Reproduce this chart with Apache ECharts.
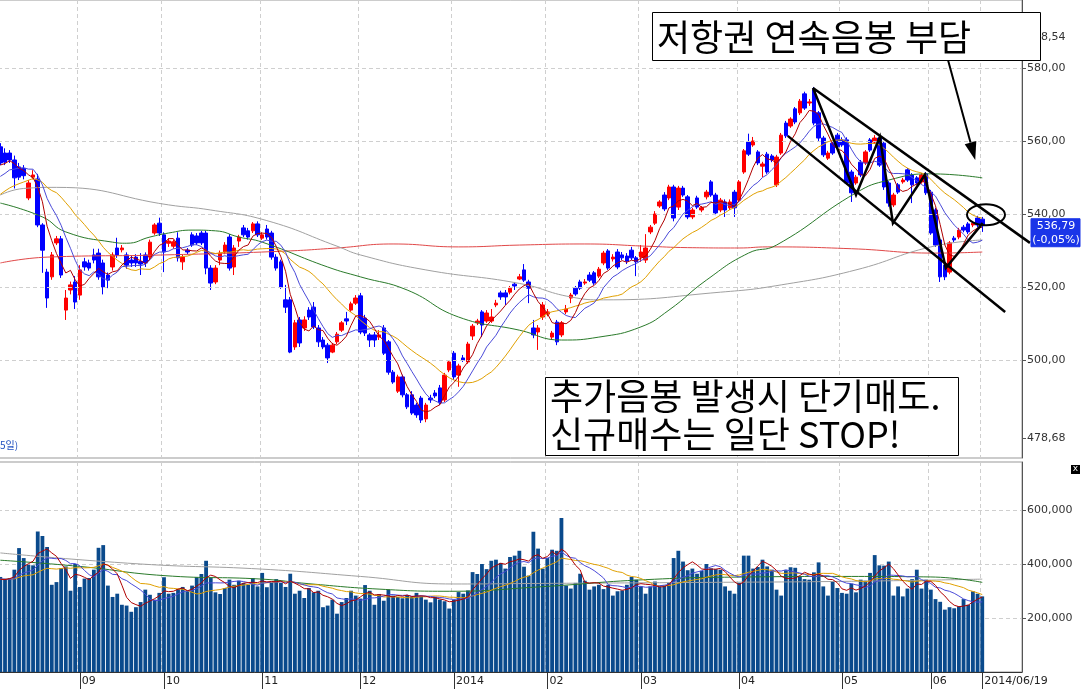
<!DOCTYPE html>
<html>
<head>
<meta charset="utf-8">
<script src="https://cdn.jsdelivr.net/npm/echarts@6/dist/echarts.min.js"></script>
<style>
  html, body { margin: 0; padding: 0; background: #fff; }
  #chart { width: 1084px; height: 689px; }
</style>
</head>
<body>
<div id="chart"></div>
<script>
// daily candles [open, close, low, high], 2013/08 .. 2014/06/19
const priceOHLC = [
  [558.4,554.0,553.4,559.4],[556.7,554.2,553.4,558.0],[556.7,554.8,554.0,557.5],[554.8,549.9,547.0,556.0],
  [552.9,550.1,549.3,554.0],[552.5,550.5,549.5,553.4],[544.4,548.5,543.8,549.3],[550.1,550.7,549.5,552.0],
  [549.6,537.0,536.4,551.0],[537.0,530.1,523.9,537.5],[524.1,517.0,514.3,525.0],[522.8,528.8,522.0,529.6],
  [532.1,533.2,531.5,534.0],[533.2,523.3,522.5,534.0],[513.7,517.0,511.0,519.2],[519.2,520.6,518.0,521.5],
  [521.4,515.9,514.0,523.0],[517.8,524.7,516.5,526.0],[526.9,525.5,524.5,528.0],[526.6,525.2,524.5,527.5],
  [528.8,527.4,526.5,530.5],[529.3,522.8,522.0,530.5],[526.6,520.0,518.0,527.5],[523.3,521.9,519.7,524.0],
  [525.5,528.8,524.5,529.5],[530.7,528.8,528.0,533.5],[530.2,530.7,529.5,531.5],[528.8,526.0,525.0,529.5],
  [527.4,526.6,525.5,528.5],[528.2,526.6,525.5,529.0],[527.0,526.3,523.3,529.3],[528.8,526.6,525.5,529.5],
  [528.2,532.3,527.5,533.0],[534.8,537.0,534.3,537.5],[537.5,534.8,534.0,539.0],[534.3,529.6,524.1,535.0],
  [532.0,532.6,531.0,533.4],[531.2,532.4,530.5,533.0],[533.4,528.0,527.0,535.0],[526.9,528.2,524.7,528.8],
  [530.1,529.6,529.0,530.7],[534.3,531.5,531.0,535.0],[534.0,532.1,531.5,534.8],[534.8,532.1,531.5,535.4],
  [534.8,525.2,523.5,535.4],[525.2,521.1,519.2,526.0],[521.4,525.2,520.8,526.0],[527.4,529.3,526.0,530.0],
  [529.6,531.5,529.0,532.3],[533.7,525.2,524.5,534.5],[525.5,530.7,523.3,531.5],[532.6,533.7,531.0,534.3],
  [536.2,534.3,533.7,537.0],[535.4,533.7,533.0,536.2],[535.4,537.3,534.8,537.8],[537.3,534.3,533.7,538.0],
  [533.4,534.3,532.9,535.0],[535.9,533.7,533.0,537.0],[534.8,528.2,527.5,535.4],[528.2,525.2,524.5,529.0],
  [526.9,520.0,519.5,527.5],[516.5,514.5,512.9,520.6],[516.5,502.2,501.9,517.3],[503.6,510.2,502.8,511.0],
  [511.0,504.7,503.6,511.8],[508.8,511.0,508.0,512.0],[513.7,511.8,511.0,514.5],[514.5,509.1,508.5,515.9],
  [508.8,505.0,503.6,509.6],[505.5,503.6,503.0,506.3],[504.1,500.6,499.2,504.7],[502.2,504.1,501.9,504.7],
  [505.0,507.1,504.4,507.7],[508.2,510.2,507.7,510.7],[511.3,510.7,509.6,513.2],[513.7,515.4,513.2,516.0],
  [515.6,517.0,515.1,517.8],[517.6,507.7,507.1,518.4],[511.5,507.4,506.6,512.4],[506.9,505.5,503.6,507.4],
  [506.9,505.5,503.6,507.7],[506.3,506.9,505.5,508.2],[508.8,501.9,501.4,509.6],[505.0,496.7,496.0,505.5],
  [496.7,494.0,493.5,497.3],[491.5,495.4,491.0,496.0],[495.4,490.5,489.8,496.0],[490.5,487.2,486.6,491.0],
  [490.5,485.5,485.0,491.5],[487.7,485.0,484.2,488.3],[489.6,483.6,482.8,490.2],[483.9,487.7,483.0,488.3],
  [489.6,489.1,488.3,490.5],[491.0,490.2,489.6,491.8],[492.4,488.3,487.7,493.2],[489.1,495.9,488.5,496.5],
  [497.3,499.5,496.7,500.0],[501.9,495.4,494.6,502.5],[495.9,498.4,492.7,499.0],[500.6,500.0,499.5,501.4],
  [499.5,504.4,499.0,505.0],[506.6,509.3,505.5,509.9],[510.2,510.7,509.6,511.3],[513.2,509.6,506.3,513.7],
  [510.7,512.9,510.2,513.7],[510.7,511.8,510.2,514.0],[515.1,515.6,514.5,516.5],[518.4,517.3,516.5,519.0],
  [518.4,517.3,515.1,519.2],[518.6,519.7,518.0,520.3],[520.8,520.3,519.2,521.4],[522.2,522.8,521.9,523.6],
  [524.7,521.9,521.4,526.3],[521.4,519.7,515.6,522.0],[508.8,506.9,506.0,511.0],[507.7,508.8,502.8,509.6],
  [511.8,515.1,511.0,515.9],[512.6,513.2,512.0,514.0],[506.3,507.4,505.5,508.0],[510.4,505.0,504.1,511.0],
  [506.9,510.2,506.3,510.7],[513.2,514.0,512.6,515.1],[517.0,517.8,515.6,518.4],[519.7,518.1,517.6,520.3],
  [521.4,519.7,519.2,522.0],[521.1,521.4,520.6,522.2],[523.3,521.9,521.4,524.1],[523.9,521.1,520.6,524.4],
  [523.0,524.9,522.5,525.5],[526.6,529.3,526.0,529.9],[529.9,525.2,524.7,530.4],[527.7,528.2,527.0,529.0],
  [529.6,525.5,524.9,530.4],[528.8,528.0,527.4,529.6],[528.5,527.1,526.3,529.3],[530.1,528.0,527.4,531.0],
  [528.0,526.9,523.0,528.5],[528.2,529.6,526.9,531.5],[527.4,530.7,526.6,534.5],[535.1,536.4,534.5,537.0],
  [537.5,540.0,537.0,540.8],[542.2,543.3,541.7,543.8],[545.2,541.4,540.8,546.0],[544.4,547.4,543.8,548.0],
  [547.4,538.9,538.0,548.0],[541.9,547.1,541.1,547.7],[547.1,545.2,544.7,547.7],[544.7,539.2,538.6,545.2],
  [539.2,541.1,538.6,541.7],[544.4,541.9,541.4,545.0],[541.1,541.7,540.5,542.2],[544.7,546.0,544.0,546.6],
  [548.8,545.2,544.7,549.3],[545.2,540.3,539.7,545.8],[541.1,543.8,540.5,544.4],[543.3,541.1,539.2,544.0],
  [541.7,543.3,541.1,544.0],[546.0,541.7,539.2,546.6],[543.8,548.8,543.3,549.3],[551.5,557.3,551.0,557.8],
  [559.7,556.4,555.9,562.0],[558.9,560.0,558.4,561.1],[557.0,554.0,553.4,557.5],[553.1,553.7,550.1,554.3],
  [556.4,551.5,551.0,557.0],[555.9,554.8,554.2,556.4],[548.0,555.6,547.4,556.2],[556.7,561.6,556.2,562.2],
  [564.9,561.4,560.8,565.5],[564.1,566.0,563.6,566.5],[568.8,565.2,564.6,569.3],[567.7,570.9,567.1,571.5],
  [572.9,569.0,568.5,573.5],[570.4,570.7,569.6,571.5],[574.0,564.9,564.3,574.8],[567.7,560.8,560.0,568.2],
  [560.8,556.2,555.6,561.4],[555.3,556.7,554.8,557.3],[559.4,556.7,556.2,560.0],[561.6,558.4,557.8,562.2],
  [560.3,558.9,558.4,561.0],[560.3,548.5,548.0,561.0],[551.5,545.8,543.3,552.1],[548.5,550.1,548.0,550.7],
  [554.2,550.7,550.1,554.8],[554.0,557.0,553.4,557.5],[560.3,557.5,557.0,560.8],[559.7,560.8,559.2,561.6],
  [560.8,553.4,552.9,561.4],[559.4,547.4,546.6,560.0],[548.5,543.0,542.0,549.0],[542.5,545.2,541.9,545.8],
  [548.0,546.0,545.5,548.5],[548.8,549.3,548.3,549.9],[552.1,549.3,548.8,552.6],[550.7,548.0,543.0,551.2],
  [549.9,548.5,548.0,550.4],[548.8,550.7,548.3,551.2],[551.0,545.8,545.2,551.5],[546.0,534.8,534.3,546.6],
  [541.1,531.5,531.0,541.7],[532.9,522.8,521.4,533.4],[526.0,522.8,521.9,526.6],[524.1,532.1,523.5,532.6],
  [533.4,532.9,532.3,534.0],[533.7,535.6,533.1,536.2],[536.4,535.6,535.0,537.0],[537.3,535.1,534.5,537.8],
  [537.0,537.5,536.4,538.1],[538.9,537.0,536.4,539.5],[538.6,536.79,535.1,539.2]
];
// closes of the days just before the visible range (only used to seed the short averages)
const leadInCloses = [536,538,537,540,541,539,542,544,543,545,546,545,548,547,550,552,551,554,556];

// volume in thousands of shares
const volumesK = [
  352,344,348,379,459,422,397,395,520,504, 463,323,333,385,391,301,400,315,346,348,
  379,460,470,320,278,290,249,246,223,240,259, 305,286,268,293,351,290,293,307,315,299,
  320,351,363,412,348,295,289,311,342,323, 338,330,323,348,317,367,314,330,344,330,315,
  364,290,301,274,311,295,301,240,246,268, 216,259,274,301,283,272,322,301,249,289,
  264,305,283,278,273,285,278,293,280,268,258, 278,268,262,235,268,296,290,302,370,363,
  400,381,412,416,404,383,426,431,449,390,357, 519,
  457,383,422,453,449,570,320,309,330,364, 338,305,317,323,307,323,283,299,302,323,
  352,342,317,290,317,335,317,321,330,422, 449,409,377,383,364,375,400,384,381,379,
  317,301,290,330,431,431,383,389,416,391, 379,305,283,377,388,386,352,344,342,369,
  406,317,283,336,311,293,290,327,295,342, 338,367,433,395,394,409,283,317,280,309,
  344,379,309,342,305,270,260,231,240,236, 243,270,249,299,290,280
];
const leadInVolumesK = [330,345,360,340,325,350,355,338,342,330,350,362,345,340,335,350,330,345,340];

// long averages as [dayIndex, value]
const ma60Points = [[0,543.0],[9,539.2],[14,535.1],[24,532.3],[27,532.0],[32,533.7],[36,534.8],[41,535.6],
  [46,535.4],[51,533.7],[56,532.3],[70,525.5],[77,522.8],[87,519.2],[98,511.8],[111,508.2],[120,505.5],
  [128,506.3],[137,509.1],[143,513.7],[151,521.9],[160,529.3],[166,531.5],[183,545.8],[190,549.3],
  [199,551.0],[210,549.9]];
const ma120Points = [[0,545.2],[5,547.0],[12,547.3],[36,542.5],[45,541.1],[57,538.2],[72,531.2],[77,528.8],
  [91,524.7],[111,521.0],[122,517.3],[129,516.5],[154,518.6],[167,520.6],[183,524.7],[199,531.0],[210,532.9]];
const ma240Points = [[0,526.6],[10,528.2],[35,528.8],[60,529.8],[72,530.7],[84,531.8],[98,531.0],
  [111,531.5],[125,531.8],[138,531.2],[147,530.8],[158,530.7],[164,531.0],[182,530.5],[200,529.3],[210,529.6]];
const volMa60Points = [[0,414],[17,391],[35,357],[56,344],[66,327],[81,307],[96,299],[115,315],
  [138,342],[160,352],[182,354],[199,352],[210,332]];
const volMa120Points = [[0,441],[30,400],[56,381],[77,354],[97,326],[115,328],[152,332],[182,336],[210,344]];

// axis labels
const slotCount = 219;
const monthTicks = [[17,'09'],[35,'10'],[56,'11'],[77,'12'],[97,'2014'],[117,'02'],[137,'03'],
  [158,'04'],[180,'05'],[199,'06'],[210,'2014/06/19']];
const priceLabelValues = [478.68, 500, 520, 540, 560, 580, 588.54];
const priceGridValues = [500, 520, 540, 560, 580];
const volumeLabelValues = [200, 400, 600];
const lastChangeText = '(-0,05%)';

// hand-drawn annotations in [dayIndex, price]
const channelUpper = [[173.8, 574.5], [220.2, 532.1]];
const channelLower = [[168.4, 561.4], [214.9, 513.2]];
const zigzag = [[173.8,574.5],[183.0,545.2],[188.1,561.1],[190.9,537.5],[197.7,550.7],[202.2,525.2],[210.1,537.5]];
const ellipseCenter = [210.8, 539.8];
const arrowLine = [[202.5, 583.0], [208.5, 554.8]];
const noteTop = '저항권 연속음봉 부담';
const noteBottom = ['추가음봉 발생시 단기매도.', '신규매수는 일단 STOP!'];

function movingAverage(values, lead, n) {
  const all = lead.concat(values);
  const off = lead.length;
  return values.map((_, i) => {
    let s = 0;
    for (let k = off + i - n + 1; k <= off + i; k++) s += all[k];
    return +(s / n).toFixed(2);
  });
}

const closes = priceOHLC.map(d => d[1]);
const categories = Array.from({ length: slotCount }, (_, i) => String(i));
const tickMap = new Map(monthTicks);
const isTick = (i) => tickMap.has(i);
const numFont = 'DejaVu Sans';
const hangulFont = '"Noto Sans CJK KR"';

function lineSeries(name, data, color, xi, yi, smooth) {
  return {
    type: 'line', name, data, xAxisIndex: xi, yAxisIndex: yi,
    showSymbol: false, symbol: 'none', smooth: smooth || false,
    lineStyle: { color, width: 1 }, z: 6, silent: true
  };
}

const chart = echarts.init(document.getElementById('chart'));
const option = {
  animation: false,
  backgroundColor: '#fff',
  grid: [
    { left: -2, right: 62, top: 0, height: 458, show: true, borderColor: '#999', borderWidth: 1, outerBoundsMode: 'none' },
    { left: -2, right: 62, top: 462, height: 210, show: true, borderColor: '#999', borderWidth: 1, outerBoundsMode: 'none' }
  ],
  xAxis: [
    {
      type: 'category', gridIndex: 0, data: categories, boundaryGap: true,
      axisLine: { show: false }, axisTick: { show: false }, axisLabel: { show: false },
      splitLine: { show: true, interval: isTick, lineStyle: { color: '#cfcfcf', type: [4, 3], width: 1 } }
    },
    {
      type: 'category', gridIndex: 1, data: categories, boundaryGap: true,
      axisLine: { show: true, lineStyle: { color: '#333', width: 1 } },
      axisTick: { show: true, interval: isTick, alignWithLabel: true, length: 17, lineStyle: { color: '#333' } },
      axisLabel: {
        show: true, interval: isTick, align: 'left', margin: 4, padding: [0, 0, 0, 2],
        fontFamily: numFont, fontSize: 11, color: '#222',
        formatter: (v, i) => tickMap.get(i) || ''
      },
      splitLine: { show: true, interval: isTick, lineStyle: { color: '#cfcfcf', type: [4, 3], width: 1 } }
    }
  ],
  yAxis: [
    {
      type: 'value', gridIndex: 0, position: 'right', min: 473.2, max: 598.6, scale: true,
      axisLine: { show: true, lineStyle: { color: '#555' } },
      axisTick: { show: true, customValues: priceLabelValues, length: 4, lineStyle: { color: '#555' } },
      axisLabel: {
        customValues: priceLabelValues, margin: 5, fontFamily: numFont, fontSize: 11, color: '#333',
        formatter: v => v.toFixed(2).replace('.', ',')
      },
      splitLine: { show: false }
    },
    {
      type: 'value', gridIndex: 1, position: 'right', min: 0, max: 777.8, interval: 200,
      axisLine: { show: true, lineStyle: { color: '#555' } },
      axisTick: { show: true, customValues: volumeLabelValues, length: 4, lineStyle: { color: '#555' } },
      axisLabel: {
        customValues: volumeLabelValues, margin: 5, fontFamily: numFont, fontSize: 11, color: '#333',
        formatter: v => (v * 1000).toLocaleString('en-US')
      },
      splitLine: { show: true, lineStyle: { color: '#cfcfcf', type: [4, 3], width: 1 } }
    }
  ],
  series: [
    {
      type: 'line', name: 'grid', data: [], xAxisIndex: 0, yAxisIndex: 0, z: 1, silent: true,
      markLine: {
        silent: true, symbol: 'none', label: { show: false },
        lineStyle: { color: '#cfcfcf', type: [4, 3], width: 1 },
        data: priceGridValues.map(v => ({ yAxis: v }))
      }
    },
    {
      type: 'candlestick', name: 'price', data: priceOHLC, xAxisIndex: 0, yAxisIndex: 0,
      barWidth: 4, z: 4, silent: true,
      itemStyle: { color: '#ff0000', color0: '#0000ff', borderColor: '#ff0000', borderColor0: '#0000ff', borderWidth: 1 }
    },
    lineSeries('MA240', ma240Points, '#e04848', 0, 0, true),
    lineSeries('MA120', ma120Points, '#a0a0a0', 0, 0, true),
    lineSeries('MA60', ma60Points, '#2a7a2a', 0, 0, true),
    lineSeries('MA20', movingAverage(closes, leadInCloses, 20), '#e0a000', 0, 0),
    lineSeries('MA10', movingAverage(closes, leadInCloses, 10), '#4a4ad8', 0, 0),
    lineSeries('MA5', movingAverage(closes, leadInCloses, 5), '#b00000', 0, 0),
    {
      type: 'bar', name: 'volume', data: volumesK, xAxisIndex: 1, yAxisIndex: 1,
      barWidth: 3.8, itemStyle: { color: '#0a4a8c' }, z: 4, silent: true
    },
    lineSeries('VMA120', volMa120Points, '#a0a0a0', 1, 1, true),
    lineSeries('VMA60', volMa60Points, '#2a7a2a', 1, 1, true),
    lineSeries('VMA20', movingAverage(volumesK, leadInVolumesK, 20), '#e0a000', 1, 1),
    lineSeries('VMA10', movingAverage(volumesK, leadInVolumesK, 10), '#4a4ad8', 1, 1),
    lineSeries('VMA5', movingAverage(volumesK, leadInVolumesK, 5), '#b00000', 1, 1)
  ]
};
chart.setOption(option);

// annotations: convert [dayIndex, price] to pixels through the axes
const xA = chart.convertToPixel({ gridIndex: 0 }, [0, 500])[0];
const xB = chart.convertToPixel({ gridIndex: 0 }, [100, 500])[0];
function toPx(pt) {
  const y = chart.convertToPixel({ gridIndex: 0 }, [0, pt[1]])[1];
  return [xA + pt[0] * (xB - xA) / 100, y];
}
const ink = { stroke: '#000', lineWidth: 2.5, fill: null };

function segment(pts, width) {
  const a = toPx(pts[0]), b = toPx(pts[1]);
  return { type: 'line', z: 100, shape: { x1: a[0], y1: a[1], x2: b[0], y2: b[1] },
    style: { stroke: '#000', lineWidth: width } };
}

const arrowA = toPx(arrowLine[0]), arrowB = toPx(arrowLine[1]);
const dx = arrowB[0] - arrowA[0], dy = arrowB[1] - arrowA[1];
const len = Math.hypot(dx, dy), ux = dx / len, uy = dy / len;
const headBase = [arrowB[0] - ux * 18, arrowB[1] - uy * 18];
const ellipsePx = toPx(ellipseCenter);
const lastPx = toPx([closes.length - 1, closes[closes.length - 1]]);

const graphics = [
  segment(channelUpper, 2.5),
  segment(channelLower, 2.5),
  { type: 'polyline', z: 100, shape: { points: zigzag.map(toPx) }, style: ink },
  { type: 'ellipse', z: 100, shape: { cx: ellipsePx[0], cy: ellipsePx[1], rx: 19, ry: 10.5 },
    style: { stroke: '#000', lineWidth: 2, fill: null } },
  { type: 'line', z: 100, shape: { x1: arrowA[0], y1: arrowA[1], x2: headBase[0], y2: headBase[1] },
    style: { stroke: '#000', lineWidth: 2 } },
  { type: 'polygon', z: 100, shape: { points: [arrowB,
      [headBase[0] - uy * 6, headBase[1] + ux * 6], [headBase[0] + uy * 6, headBase[1] - ux * 6]] },
    style: { fill: '#000' } },
  // note boxes
  { type: 'rect', z: 110, shape: { x: 652.5, y: 12.5, width: 388, height: 48 },
    style: { fill: '#fff', stroke: '#000', lineWidth: 1 } },
  { type: 'text', z: 111, style: { text: noteTop, x: 657, y: 37, fill: '#000',
      fontFamily: hangulFont, fontSize: 36, verticalAlign: 'middle' } },
  { type: 'rect', z: 110, shape: { x: 545.5, y: 377.5, width: 413, height: 78 },
    style: { fill: '#fff', stroke: '#000', lineWidth: 1 } },
  { type: 'text', z: 111, style: { text: noteBottom[0], x: 550, y: 396, fill: '#000',
      fontFamily: hangulFont, fontSize: 36, verticalAlign: 'middle' } },
  { type: 'text', z: 111, style: { text: noteBottom[1], x: 550, y: 434, fill: '#000',
      fontFamily: hangulFont, fontSize: 36, verticalAlign: 'middle' } },
  // current price tag
  { type: 'rect', z: 110, shape: { x: 1031, y: lastPx[1] - 7, width: 49, height: 28 },
    style: { fill: '#1a35e8', stroke: '#1a35e8' } },
  { type: 'text', z: 111, style: { text: closes[closes.length - 1].toFixed(2).replace('.', ','),
      x: 1056, y: lastPx[1], fill: '#fff', fontFamily: numFont, fontSize: 11, align: 'center', verticalAlign: 'middle' } },
  { type: 'text', z: 111, style: { text: lastChangeText, x: 1056, y: lastPx[1] + 14, fill: '#fff',
      fontFamily: numFont, fontSize: 11, align: 'center', verticalAlign: 'middle' } },
  // bits of the trading screen
  { type: 'text', z: 111, style: { text: '5일)', x: 0, y: 445, fill: '#2050c0',
      fontFamily: hangulFont, fontSize: 10, verticalAlign: 'middle' } },
  { type: 'rect', z: 110, shape: { x: 1071, y: 465, width: 9, height: 9 }, style: { fill: '#000' } },
  { type: 'text', z: 111, style: { text: 'x', x: 1075.5, y: 469, fill: '#fff', fontFamily: numFont,
      fontSize: 9, align: 'center', verticalAlign: 'middle' } }
];
chart.setOption({ graphic: graphics });
</script>
</body>
</html>
